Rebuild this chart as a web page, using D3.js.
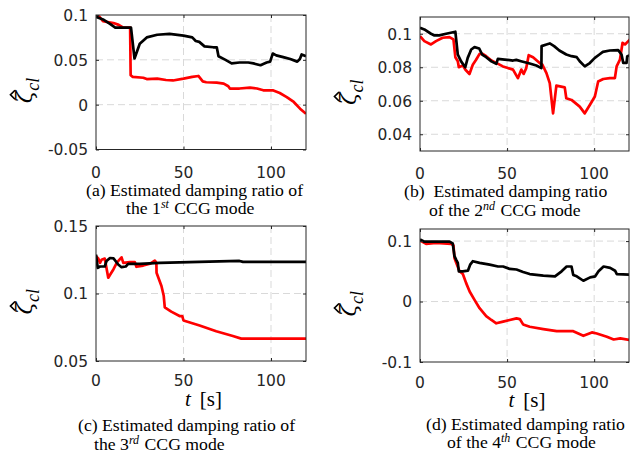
<!DOCTYPE html>
<html>
<head>
<meta charset="utf-8">
<script src="https://cdn.jsdelivr.net/npm/d3@7"></script>
<style>
  body { margin: 0; background: #fff; }
  svg { display: block; }
</style>
</head>
<body>
<svg id="chart" width="633" height="453"></svg>
<script>
// time axis shared by all panels
const xDomain = [0, 120];
const xTicks = [0, 50, 100];

// (a) 1st CCG mode, [t, zeta]
const aBlack = [[0,0.098],[4,0.095],[8,0.090],[11,0.086],[20,0.086],[22,0.0515],[25,0.068],[29,0.075],[35,0.078],[42,0.079],[50,0.077],[55,0.075],[57,0.071],[59,0.070],[62,0.065],[67,0.064],[69,0.064],[70,0.054],[74,0.050],[77.5,0.046],[82,0.047],[87,0.047],[90,0.046],[94,0.044],[97.5,0.047],[99.5,0.048],[101,0.057],[103,0.055],[107,0.053],[111,0.051],[115,0.048],[116.5,0.051],[117.5,0.056],[120,0.054]];
const aRed = [[0,0.1],[2,0.098],[4,0.093],[10,0.091],[13,0.089],[15.6,0.086],[19.5,0.086],[19.8,0.0328],[21,0.031],[27,0.030],[29,0.0285],[35,0.029],[40,0.0275],[44,0.027],[50,0.029],[55,0.031],[58.5,0.032],[61,0.026],[63,0.025],[69,0.0245],[73,0.0235],[75.6,0.0205],[76.5,0.018],[82,0.018],[88,0.019],[92,0.018],[95.6,0.016],[101,0.016],[105,0.013],[109,0.0085],[113,0.003],[116.6,-0.0045],[120,-0.010]];
const aYTicks = [-0.05, 0, 0.05, 0.1];

// (b) 2nd CCG mode
const bBlack = [[0,0.1036],[2.5,0.1026],[6.3,0.1],[8.3,0.099],[11,0.099],[15,0.1],[20.3,0.1012],[21.7,0.0876],[23.6,0.0835],[26,0.080],[27.4,0.0856],[29.4,0.0906],[31.3,0.092],[34,0.0912],[35.7,0.0876],[38,0.086],[41,0.0835],[43.8,0.082],[44.7,0.085],[48.6,0.0846],[53.4,0.084],[55.3,0.0844],[58,0.0836],[63,0.0822],[66.8,0.081],[69.7,0.0795],[69.8,0.0926],[72.6,0.0936],[74.5,0.0942],[77,0.0926],[80,0.09],[84,0.0876],[87,0.0866],[90,0.086],[91.7,0.0836],[94.6,0.0805],[97.5,0.0825],[100.4,0.0856],[103,0.0876],[105,0.0892],[109,0.09],[113.8,0.0902],[115.7,0.0876],[116.7,0.0826],[118.6,0.0826],[119,0.0866],[121,0.0872]];
const bRed = [[0,0.0986],[2.5,0.0956],[6.3,0.0936],[9.2,0.0956],[13,0.0976],[16.9,0.098],[19.2,0.0966],[20.3,0.086],[21.7,0.0836],[22.3,0.080],[24.6,0.081],[26.1,0.0785],[28.4,0.076],[30.3,0.0815],[32.2,0.0845],[34.2,0.088],[36,0.088],[38,0.0866],[41,0.084],[43.8,0.0826],[47.6,0.0805],[50.5,0.0795],[53.4,0.0786],[56.2,0.0735],[58.2,0.0786],[59.5,0.076],[61,0.0795],[62.4,0.0872],[64.9,0.086],[68.7,0.0825],[70.3,0.0815],[72.6,0.0765],[74.5,0.0705],[76.4,0.0525],[78.3,0.069],[83.1,0.068],[84,0.0615],[87,0.0605],[91.7,0.0565],[94.6,0.0525],[97.5,0.0575],[100.4,0.0625],[102.3,0.0715],[105.2,0.073],[109,0.0735],[111.9,0.0735],[112.9,0.0805],[114.8,0.0845],[116.3,0.0946],[117.7,0.0936],[119.6,0.0956],[121,0.097]];
const bYTicks = [0.04, 0.06, 0.08, 0.1];

// (c) 3rd CCG mode
const cBlack = [[0,0.1288],[1,0.119],[2.3,0.120],[5,0.120],[6,0.124],[8,0.1263],[10,0.126],[12.7,0.1215],[14.6,0.1195],[17,0.120],[18.4,0.122],[25,0.122],[36.4,0.1227],[59,0.1234],[82,0.1241],[84,0.1234],[120,0.1234]];
const cRed = [[0,0.1276],[1.3,0.126],[2.3,0.1227],[3.2,0.125],[5,0.1259],[7,0.1117],[10,0.118],[12,0.123],[14.6,0.1268],[15.6,0.1227],[19.4,0.1232],[22.2,0.1232],[23.1,0.1198],[27,0.1207],[30.8,0.122],[33.6,0.1244],[34.5,0.1227],[34.6,0.1154],[37.4,0.1056],[38.7,0.0983],[39.3,0.0898],[43,0.0866],[48,0.0832],[49.3,0.0832],[50,0.080],[59.2,0.0763],[68.7,0.072],[78.2,0.0685],[83,0.0666],[120,0.0666]];
const cYTicks = [0.05, 0.1, 0.15];

// (d) 4th CCG mode
const dBlack = [[0,0.1028],[2.5,0.099],[5.4,0.099],[17,0.099],[18.8,0.096],[19.8,0.075],[20.8,0.069],[21.7,0.064],[22.3,0.05],[24.6,0.05],[27.5,0.051],[28.8,0.061],[30.4,0.0667],[34.2,0.064],[40,0.061],[44.8,0.058],[47.7,0.058],[51.5,0.054],[55.4,0.053],[59.2,0.049],[63,0.0455],[70.8,0.043],[77.5,0.0417],[81.3,0.05],[84.2,0.058],[87,0.058],[88,0.044],[90,0.0417],[93.8,0.0344],[97.7,0.04],[100.6,0.0417],[102.5,0.05],[105.4,0.058],[109.2,0.0556],[112,0.051],[113,0.0455],[121,0.0444]];
const dRed = [[0,0.101],[3.5,0.0955],[9.2,0.097],[17.9,0.0955],[19.2,0.093],[19.8,0.072],[20.8,0.064],[22.7,0.05],[24.6,0.0455],[26.5,0.0305],[28.5,0.0167],[31.3,0.0028],[34.2,-0.011],[38,-0.024],[41,-0.0305],[43.8,-0.036],[47.7,-0.0333],[51.5,-0.0305],[55.4,-0.0278],[57.3,-0.029],[59.2,-0.0378],[63,-0.0417],[70.8,-0.0455],[78.5,-0.049],[88,-0.049],[93.8,-0.0567],[98.7,-0.051],[101.5,-0.0528],[107.3,-0.0583],[111.2,-0.0628],[115,-0.061],[121,-0.064]];
const dYTicks = [-0.1, 0, 0.1];

// layout of the four axes
const panels = [
    { id: 'a', left: 96,  right: 306, top: 15,  bottom: 149.5, yDomain: [-0.05, 0.1], yTicks: aYTicks, black: aBlack, red: aRed, xlabel: false, tickDy: 28,
      caption: [{ x: 86, y: 196, parts: ['(a) Estimated damping ratio of'] }, { x: 126, y: 214, parts: ['the 1', 'st', ' CCG mode'] }] },
    { id: 'b', left: 420, right: 629, top: 17,  bottom: 151,   yDomain: [0.03, 0.11], yTicks: bYTicks, black: bBlack, red: bRed, xlabel: false, tickDy: 28,
      caption: [{ x: 404, y: 197, parts: ['(b)\u2002Estimated damping ratio'] }, { x: 429, y: 216, parts: ['of the 2', 'nd', ' CCG mode'] }] },
    { id: 'c', left: 96,  right: 306, top: 226, bottom: 361,   yDomain: [0.05, 0.15], yTicks: cYTicks, black: cBlack, red: cRed, xlabel: true, tickDy: 25,
      caption: [{ x: 78, y: 431, parts: ['(c) Estimated damping ratio of'] }, { x: 94, y: 450, parts: ['the 3', 'rd', ' CCG mode'] }] },
    { id: 'd', left: 420, right: 629, top: 229, bottom: 362,   yDomain: [-0.1, 0.12], yTicks: dYTicks, black: dBlack, red: dRed, xlabel: true, tickDy: 26,
      caption: [{ x: 426, y: 430, parts: ['(d) Estimated damping ratio'] }, { x: 447, y: 448, parts: ['of the 4', 'th', ' CCG mode'] }] }
];

const axisColor = '#262626';
const gridColor = '#d9d9d9';
const tickFont = '"DejaVu Sans", sans-serif';
const serif = '"Liberation Serif", "Times New Roman", serif';

const svg = d3.select('#chart');
const fmt = (d) => String(+d.toFixed(2));

panels.forEach((p) => {
    const x = d3.scaleLinear().domain(xDomain).range([p.left, p.right]);
    const y = d3.scaleLinear().domain(p.yDomain).range([p.bottom, p.top]);
    const g = svg.append('g').attr('class', 'panel-' + p.id);

    // dashed grid
    g.append('g').selectAll('line')
        .data(xTicks.filter((t) => t > xDomain[0]))
        .join('line')
        .attr('x1', (d) => x(d)).attr('x2', (d) => x(d))
        .attr('y1', p.top).attr('y2', p.bottom)
        .attr('stroke', gridColor).attr('stroke-dasharray', '7,4');
    g.append('g').selectAll('line')
        .data(p.yTicks.filter((t) => t > p.yDomain[0] && t < p.yDomain[1]))
        .join('line')
        .attr('x1', p.left).attr('x2', p.right)
        .attr('y1', (d) => y(d)).attr('y2', (d) => y(d))
        .attr('stroke', gridColor).attr('stroke-dasharray', '7,4');

    // data
    svg.append('clipPath').attr('id', 'clip-' + p.id)
        .append('rect')
        .attr('x', p.left).attr('y', p.top)
        .attr('width', p.right - p.left).attr('height', p.bottom - p.top);

    const line = d3.line().x((d) => x(d[0])).y((d) => y(d[1]));
    const lines = g.append('g').attr('clip-path', `url(#clip-${p.id})`);
    lines.append('path').datum(p.red)
        .attr('d', line).attr('fill', 'none')
        .attr('stroke', '#ff0000').attr('stroke-width', 2.7)
        .attr('stroke-linejoin', 'round');
    lines.append('path').datum(p.black)
        .attr('d', line).attr('fill', 'none')
        .attr('stroke', '#000').attr('stroke-width', 2.7)
        .attr('stroke-linejoin', 'round');

    // box with inward ticks on all sides
    g.append('rect')
        .attr('x', p.left).attr('y', p.top)
        .attr('width', p.right - p.left).attr('height', p.bottom - p.top)
        .attr('fill', 'none').attr('stroke', axisColor).attr('stroke-width', 1);

    const axB = d3.axisBottom(x).tickValues(xTicks).tickSize(-3).tickFormat('');
    const axT = d3.axisTop(x).tickValues(xTicks).tickSize(-3).tickFormat('');
    const axL = d3.axisLeft(y).tickValues(p.yTicks).tickSize(-3).tickFormat('');
    const axR = d3.axisRight(y).tickValues(p.yTicks).tickSize(-3).tickFormat('');
    [[axB, `translate(0,${p.bottom})`], [axT, `translate(0,${p.top})`],
     [axL, `translate(${p.left},0)`], [axR, `translate(${p.right},0)`]].forEach(([ax, tr]) => {
        const a = g.append('g').attr('transform', tr).call(ax);
        a.select('.domain').remove();
        a.selectAll('line').attr('stroke', axisColor);
    });

    // tick labels
    g.append('g').selectAll('text')
        .data(xTicks)
        .join('text')
        .attr('x', (d) => x(d)).attr('y', p.bottom + p.tickDy)
        .attr('text-anchor', 'middle')
        .style('font-family', tickFont).style('font-size', '15.5px').attr('fill', axisColor)
        .text((d) => d);
    g.append('g').selectAll('text')
        .data(p.yTicks)
        .join('text')
        .attr('x', p.left - 8).attr('y', (d) => y(d)).attr('dy', '0.38em')
        .attr('text-anchor', 'end')
        .style('font-family', tickFont).style('font-size', '15.5px').attr('fill', axisColor)
        .text(fmt);

    // y label: zeta hat, subscript cl
    const cy = (p.top + p.bottom) / 2 + 21;
    const yl = g.append('g').attr('transform', `translate(${p.left - 64},${cy}) rotate(-90)`);
    yl.append('text')
        .style('font-family', '"DejaVu Serif", serif').style('font-style', 'italic').style('font-size', '23px')
        .text('ζ')
        .append('tspan').attr('dy', 7).attr('dx', 0).style('font-family', serif).style('font-size', '18px').text('cl');
    yl.append('path')
        .attr('d', 'M4,-17 L8.5,-21.5 L13,-17')
        .attr('fill', 'none').attr('stroke', '#000').attr('stroke-width', 1.7);

    // x label
    if (p.xlabel) {
        const xl = g.append('text')
            .attr('x', (p.left + p.right) / 2 - 16).attr('y', p.bottom + 45)
            .style('font-family', serif).style('font-size', '21px');
        xl.append('tspan').style('font-style', 'italic').text('t');
        xl.append('tspan').attr('dx', 9).text('[s]');
    }

    // sub-caption
    p.caption.forEach((c) => {
        const t = g.append('text').attr('x', c.x).attr('y', c.y)
            .style('font-family', serif).style('font-size', '17.7px').attr('fill', '#000');
        t.append('tspan').text(c.parts[0]);
        if (c.parts.length > 1) {
            t.append('tspan').attr('dy', -6).style('font-size', '12px').style('font-style', 'italic').text(c.parts[1]);
            t.append('tspan').attr('dy', 6).attr('dx', 1).text(c.parts[2]);
        }
    });
});
</script>
</body>
</html>
